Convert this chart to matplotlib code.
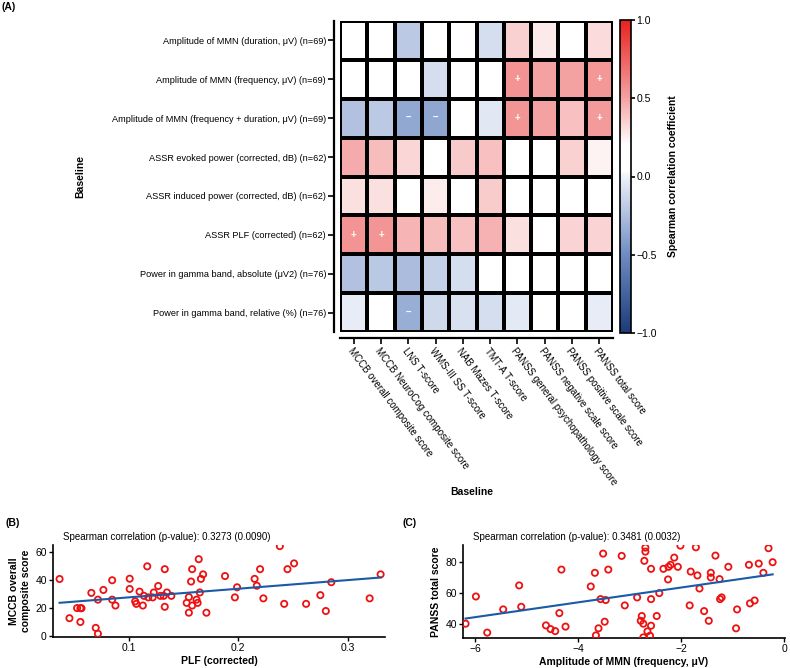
import numpy as np
import matplotlib
matplotlib.use("Agg")
import matplotlib.pyplot as plt
from matplotlib.colors import LinearSegmentedColormap

plt.rcParams['font.family'] = ['Liberation Sans', 'DejaVu Sans']

# ---- heatmap data (A) ----
row_labels = ['Amplitude of MMN (duration, μV) (n=69)',
              'Amplitude of MMN (frequency, μV) (n=69)',
              'Amplitude of MMN (frequency + duration, μV) (n=69)',
              'ASSR evoked power (corrected, dB) (n=62)',
              'ASSR induced power (corrected, dB) (n=62)',
              'ASSR PLF (corrected) (n=62)',
              'Power in gamma band, absolute (μV2) (n=76)',
              'Power in gamma band, relative (%) (n=76)']
col_labels = ['MCCB overall composite score', 'MCCB NeuroCog composite score',
              'LNS T-score', 'WMS-III SS T-score', 'NAB Mazes T-score', 'TMT-A T-score',
              'PANSS general psychopathology score', 'PANSS negative scale score',
              'PANSS positive scale score', 'PANSS total score']
rho = np.array([
    [0.10, 0.10, -0.20, 0.10, 0.10, -0.10, 0.35, 0.27, 0.10, 0.32],
    [0.10, 0.10, 0.10, -0.10, 0.18, 0.10, 0.56, 0.50, 0.50, 0.54],
    [-0.24, -0.20, -0.36, -0.37, 0.10, -0.05, 0.55, 0.50, 0.40, 0.53],
    [0.47, 0.42, 0.33, 0.15, 0.37, 0.40, 0.10, 0.10, 0.35, 0.24],
    [0.30, 0.30, 0.10, 0.26, 0.10, 0.36, 0.10, 0.10, 0.10, 0.10],
    [0.56, 0.55, 0.44, 0.42, 0.40, 0.45, 0.30, 0.10, 0.34, 0.34],
    [-0.24, -0.21, -0.26, -0.16, -0.10, 0.10, 0.10, 0.10, 0.10, 0.10],
    [-0.03, 0.10, -0.33, -0.12, -0.08, -0.10, -0.04, 0.10, 0.10, -0.03],
])
# significant cells: (row, col, sign)
signif = [(1, 6, '+'), (1, 9, '+'), (2, 6, '+'), (2, 9, '+'),
          (5, 0, '+'), (5, 1, '+'), (2, 2, '–'), (2, 3, '–'), (7, 2, '–')]

# ---- scatter data (B) ----
plf = [0.037, 0.046, 0.053, 0.056, 0.057, 0.056, 0.066, 0.072, 0.070, 0.072,
       0.077, 0.085, 0.085, 0.088, 0.101, 0.101, 0.106, 0.107, 0.110, 0.113,
       0.114, 0.117, 0.118, 0.122, 0.123, 0.127, 0.129, 0.132, 0.133, 0.133,
       0.135, 0.139, 0.153, 0.155, 0.155, 0.157, 0.158, 0.158, 0.162, 0.163,
       0.164, 0.165, 0.166, 0.168, 0.171, 0.188, 0.197, 0.199, 0.215, 0.217,
       0.220, 0.223, 0.238, 0.242, 0.245, 0.251, 0.262, 0.275, 0.280, 0.285,
       0.320, 0.330]
mccb = [40.8, 12.9, 20.1, 20.0, 20.0, 10.2, 30.9, 26.1, 6.0, 1.8,
        33.0, 39.9, 26.1, 21.9, 41.0, 33.7, 24.9, 23.1, 31.8, 21.9,
        28.8, 49.8, 27.7, 27.7, 31.2, 35.8, 28.8, 28.8, 47.8, 21.0,
        31.2, 28.8, 23.8, 27.9, 16.8, 39.0, 47.8, 21.9, 26.1, 23.8,
        54.9, 31.2, 40.9, 44.1, 16.8, 42.9, 27.7, 34.9, 40.9, 36.0,
        47.8, 27.0, 64.2, 23.1, 47.8, 51.9, 23.1, 29.3, 18.0, 38.5,
        27.0, 44.1]

# ---- scatter data (C) ----
mmn = [-6.19, -5.99, -5.77, -5.46, -5.15, -5.11, -4.63, -4.54, -4.45, -4.37,
       -4.33, -4.25, -3.76, -3.68, -3.66, -3.61, -3.57, -3.52, -3.49, -3.47,
       -3.42, -3.16, -3.10, -2.86, -2.79, -2.77, -2.74, -2.74, -2.72, -2.70,
       -2.70, -2.66, -2.61, -2.59, -2.59, -2.59, -2.48, -2.43, -2.35, -2.26,
       -2.25, -2.21, -2.14, -2.07, -2.02, -1.84, -1.82, -1.72, -1.69, -1.65,
       -1.56, -1.47, -1.43, -1.43, -1.34, -1.26, -1.25, -1.22, -1.09, -0.92,
       -0.94, -0.67, -0.69, -0.58, -0.50, -0.41, -0.31, -0.23]
panss = [40.0, 57.7, 34.2, 49.3, 64.9, 51.0, 38.9, 36.5, 35.2, 46.9,
         75.2, 38.1, 64.2, 73.1, 32.4, 37.0, 56.0, 85.6, 41.3, 55.4,
         75.2, 84.1, 51.9, 57.1, 41.9, 45.0, 40.0, 31.1, 80.9, 89.5,
         86.9, 35.0, 32.2, 38.7, 75.7, 56.0, 45.0, 59.9, 75.7, 68.8,
         77.0, 78.3, 83.0, 77.0, 90.8, 51.9, 73.9, 89.7, 71.4, 62.9,
         48.2, 41.9, 73.1, 70.1, 84.3, 69.0, 56.0, 57.1, 77.0, 49.3,
         37.0, 53.2, 78.3, 55.1, 79.1, 73.1, 89.1, 80.0]

W, H = 790, 668
fig = plt.figure(figsize=(W / 100, H / 100), dpi=100)

def px(l, t, r, b):
    return [l / W, 1 - b / H, (r - l) / W, (b - t) / H]

cmap = LinearSegmentedColormap.from_list('rwb', [
    (0.0, '#1c3a78'), (0.25, '#6e8cc2'), (0.5, '#eef2fa'), (0.52, '#ffffff'),
    (0.6, '#ffffff'), (0.75, '#f4a3a3'), (1.0, '#e8221e')])

# ---- (A) heatmap ----
ax = fig.add_axes(px(340, 21, 613, 332))
mesh = ax.pcolormesh(rho, cmap=cmap, vmin=-1, vmax=1, edgecolors='black', linewidth=1.5)
ax.set_xlim(0, rho.shape[1])
ax.set_ylim(rho.shape[0], 0)
for r, c, s in signif:
    ax.text(c + 0.5, r + 0.5, s, ha='center', va='center', color='white',
            fontsize=7, fontweight='bold')
for side in ['top', 'right']:
    ax.spines[side].set_visible(False)
for side in ['left', 'bottom']:
    ax.spines[side].set_position(('outward', 4))
    ax.spines[side].set_linewidth(1.6)
ax.tick_params(length=4, width=1.2, pad=2)
ax.set_xticks(np.arange(len(col_labels)) + 0.5)
ax.set_xticklabels(col_labels)
ax.set_yticks(np.arange(len(row_labels)) + 0.5)
ax.set_yticklabels(row_labels)
for lbl in ax.get_xticklabels():
    lbl.set_rotation(-53)
    lbl.set_ha('left')
    lbl.set_va('top')
    lbl.set_rotation_mode('anchor')
    lbl.set_fontsize(7)
for lbl in ax.get_yticklabels():
    lbl.set_fontsize(6.6)
ax.set_ylabel('Baseline', fontsize=7.5, fontweight='bold')
ax.yaxis.set_label_coords((85 - 340) / 273, 0.5)
ax.set_xlabel('Baseline', fontsize=7.5, fontweight='bold')
ax.xaxis.set_label_coords(0.484, -0.50)
fig.text(2 / W, 1 - 7 / H, '(A)', fontsize=7.5, fontweight='bold', va='center')

cax = fig.add_axes(px(620, 20, 631, 333))
cb = fig.colorbar(mesh, cax=cax, ticks=[-1, -0.5, 0, 0.5, 1])
cb.ax.set_yticklabels(['−1.0', '−0.5', '0.0', '0.5', '1.0'])
cb.ax.tick_params(labelsize=7.5, length=3, width=1.2, pad=1)
cb.outline.set_linewidth(1.2)
cb.set_label('Spearman correlation coefficient', fontsize=7.5, fontweight='bold', labelpad=8)

# ---- scatter helper ----
def scatter_panel(rect, x, y, title, xlabel, ylabel, xlim, ylim, xticks, yticks):
    a = fig.add_axes(rect)
    a.scatter(x, y, s=20, facecolors='none', edgecolors='#ee1111', linewidths=1.3, zorder=3)
    k, b0 = np.polyfit(x, y, 1)
    xs = np.array([min(x), max(x)])
    a.plot(xs, k * xs + b0, color='#1a5aa6', lw=1.5, zorder=4)
    a.set_xlim(*xlim)
    a.set_ylim(*ylim)
    a.set_xticks(xticks)
    a.set_yticks(yticks)
    for side in ['top', 'right']:
        a.spines[side].set_visible(False)
    for side in ['left', 'bottom']:
        a.spines[side].set_linewidth(1.2)
    a.tick_params(labelsize=7.5, length=3, width=1.0, pad=1.5)
    a.set_xlabel(xlabel, fontsize=7.5, fontweight='bold', labelpad=2)
    a.set_ylabel(ylabel, fontsize=7.5, fontweight='bold', labelpad=3)
    a.text(0.03, 1.03, title, transform=a.transAxes, fontsize=7, va='bottom')
    return a

scatter_panel(px(53, 545, 385, 637), plf, mccb,
              'Spearman correlation (p-value): 0.3273 (0.0090)',
              'PLF (corrected)', 'MCCB overall\ncomposite score',
              (0.031, 0.334), (-0.5, 65), [0.1, 0.2, 0.3], [0, 20, 40, 60])
scatter_panel(px(463, 545, 785, 638), mmn, panss,
              'Spearman correlation (p-value): 0.3481 (0.0032)',
              'Amplitude of MMN (frequency, μV)', 'PANSS total score',
              (-6.24, 0.01), (30.7, 91.2), [-6, -4, -2, 0], [40, 60, 80])
fig.text(5 / W, 1 - 523 / H, '(B)', fontsize=7.5, fontweight='bold', va='center')
fig.text(402 / W, 1 - 523 / H, '(C)', fontsize=7.5, fontweight='bold', va='center')

fig.savefig('out.png', dpi=100)
